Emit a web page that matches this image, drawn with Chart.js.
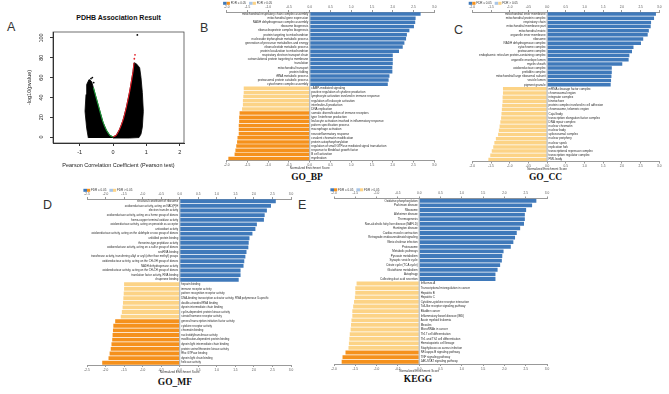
<!DOCTYPE html>
<html><head><meta charset="utf-8">
<script src="https://cdn.jsdelivr.net/npm/chart.js@4.4.0/dist/chart.umd.min.js"></script>
<style>
html,body{margin:0;padding:0;background:#fff;width:669px;height:394px;overflow:hidden;position:relative;font-family:"Liberation Sans",Arial,sans-serif}
canvas{position:absolute}
.pl{position:absolute;font-size:12.5px;color:#333;line-height:1;font-family:"Liberation Sans",Arial,sans-serif}
.gt{position:absolute;font-family:"Liberation Serif","Times New Roman",serif;font-weight:bold;font-size:9.5px;line-height:1;transform:translateX(-50%);color:#111;white-space:nowrap}
.at{position:absolute;font-weight:bold;font-size:7px;line-height:1;transform:translateX(-50%);color:#111;white-space:nowrap}
</style></head><body>
<div class="pl" style="left:7px;top:20.6px">A</div>
<div class="pl" style="left:200px;top:21.6px">B</div>
<div class="pl" style="left:454px;top:23.6px">C</div>
<div class="pl" style="left:43px;top:198.6px">D</div>
<div class="pl" style="left:298px;top:198.6px">E</div>
<div class="at" style="left:118.5px;top:14.2px">PDHB Association Result</div>
<div class="gt" style="left:307px;top:172.6px">GO_BP</div>
<div class="gt" style="left:545.5px;top:172.6px">GO_CC</div>
<div class="gt" style="left:175px;top:377.6px">GO_MF</div>
<div class="gt" style="left:418px;top:374.6px">KEGG</div>
<canvas id="cA"></canvas>
<canvas id="cB"></canvas>
<canvas id="cC"></canvas>
<canvas id="cD"></canvas>
<canvas id="cE"></canvas>
<script>
// ---------- Panel A: volcano (outline values) ----------
const massLeftR = [-0.74,-0.79,-0.84,-0.81,-0.79,-0.72,-0.64];
const massLeftP = [-1,9,26,43,53,58,56];
const greenR = [-0.59,-0.50,-0.40,-0.30,-0.20,-0.10,0.00];
const greenP = [50,39,27,15,7,2,0];
const redR = [0.00,0.10,0.20,0.30,0.40,0.50,0.60,0.63];
const redP = [0,2,8,17,30,46,66,75];
const massRightR = [0.70,0.80,0.84,0.88,0.91,0.88,0.84,0.78,0.50,0.00];
const massRightP = [74,70,60,45,26,10,3,-0.5,-1,-1];
const outBlackR = [0.73,0.70,0.74,0.77,-0.62,-0.66,-0.70,-0.58];
const outBlackP = [103,72,70,68,60,59,57,55];
const outRedR = [0.66,0.64];
const outRedP = [83,79];
const volcanoXTicks = [-1,0,1,2];
const volcanoYTicks = [0,20,40,60,80,100];

// ---------- Panel B: GO_BP ----------
const bpTerms = ["mitochondrial respiratory chain complex assembly","mitochondrial gene expression","NADH dehydrogenase complex assembly","ribosome biogenesis","ribonucleoprotein complex biogenesis","protein targeting to mitochondrion","nucleoside triphosphate metabolic process","generation of precursor metabolites and energy","ribonucleotide metabolic process","protein localization to mitochondrion","respiratory electron transport chain","cotranslational protein targeting to membrane","translation","mitochondrial transport","protein folding","tRNA metabolic process","proteasomal protein catabolic process","cytochrome complex assembly",
"cAMP-mediated signaling","positive regulation of cytokine production","lymphocyte activation involved in immune response","regulation of leukocyte activation","interleukin-6 production","DNA replication",
"somatic diversification of immune receptors","type I interferon production","leukocyte activation involved in inflammatory response","pattern specification process","macrophage activation","neuroinflammatory response","covalent chromatin modification","protein autophosphorylation","regulation of small GTPase mediated signal transduction","response to fibroblast growth factor","B cell activation","myelination"];
const bpNES = [2.67,2.55,2.54,2.51,2.40,2.34,2.32,2.28,2.24,2.15,2.00,2.00,2.00,1.99,1.99,1.92,1.90,1.88,
-1.59,-1.59,-1.60,-1.61,-1.61,-1.63,
-1.69,-1.70,-1.70,-1.71,-1.71,-1.71,-1.74,-1.75,-1.77,-1.79,-1.81,-1.96];
const bpSig = [1,1,1,1,1,1,1,1,1,1,1,1,1,1,1,1,1,1, 0,0,0,0,0,0, 1,1,1,1,1,1,1,1,1,1,1,1];

// ---------- Panel C: GO_CC ----------
const ccTerms = ["mitochondrial inner membrane","mitochondrial protein complex","respiratory chain","mitochondrial membrane part","mitochondrial matrix","organelle inner membrane","ribosome","NADH dehydrogenase complex","cytochrome complex","proteasome complex","endoplasmic reticulum protein-containing complex","organelle envelope lumen","myelin sheath","oxidoreductase complex","prefoldin complex","mitochondrial large ribosomal subunit","vesicle lumen","pigment granule",
"mRNA cleavage factor complex","chromosomal region","integrator complex","kinetochore","protein complex involved in cell adhesion","chromosome, telomeric region","Cajal body","transcription elongation factor complex","DNA repair complex","nuclear chromatin","nuclear body","spliceosomal complex","nuclear periphery","nuclear speck","replication fork","transcriptional repressor complex","transcription regulator complex","PML body"];
const ccNES = [2.91,2.86,2.78,2.77,2.72,2.69,2.57,2.51,2.31,2.27,2.20,2.18,2.01,1.73,1.73,1.72,1.71,1.70,
-1.18,-1.18,-1.19,-1.19,-1.20,-1.21,-1.22,-1.23,-1.25,-1.27,-1.29,-1.31,-1.37,-1.41,-1.44,-1.48,-1.52,-1.57];
const ccSig = [1,1,1,1,1,1,1,1,1,1,1,1,1,1,1,1,1,1, 0,0,0,0,0,0,0,0,0,0,0,0,0,0,0,0,0,0];

// ---------- Panel D: GO_MF ----------
const mfTerms = ["structural constituent of ribosome","oxidoreductase activity, acting on NAD(P)H","electron transfer activity","oxidoreductase activity, acting on a heme group of donors","heme-copper terminal oxidase activity","oxidoreductase activity, acting on peroxide as acceptor","antioxidant activity","oxidoreductase activity, acting on the aldehyde or oxo group of donors","unfolded protein binding","threonine-type peptidase activity","oxidoreductase activity, acting on a sulfur group of donors","snoRNA binding","transferase activity, transferring alkyl or aryl (other than methyl) groups","oxidoreductase activity, acting on the CH-OH group of donors","NADH dehydrogenase activity","oxidoreductase activity, acting on the CH-CH group of donors","translation factor activity, RNA binding","chaperone binding",
"heparin binding","immune receptor activity","pattern recognition receptor activity","DNA-binding transcription activator activity, RNA polymerase II-specific","double-stranded RNA binding","dynein intermediate chain binding","cyclin-dependent protein kinase activity","steroid hormone receptor activity",
"general transcription initiation factor activity","cytokine receptor activity","chromatin binding","nucleotidyltransferase activity","modification-dependent protein binding","dynein light intermediate chain binding","protein serine/threonine kinase activity","Rho GTPase binding","dynein light chain binding","helicase activity"];
const mfNES = [2.59,2.46,2.35,2.29,2.27,2.08,2.04,1.96,1.88,1.86,1.85,1.80,1.77,1.74,1.72,1.64,1.64,1.59,
-1.50,-1.50,-1.51,-1.52,-1.53,-1.54,-1.56,-1.59,
-1.74,-1.79,-1.80,-1.81,-1.82,-1.84,-1.86,-1.89,-1.92,-2.09];
const mfSig = [1,1,1,1,1,1,1,1,1,1,1,1,1,1,1,1,1,1, 0,0,0,0,0,0,0,0, 1,1,1,1,1,1,1,1,1,1];

// ---------- Panel E: KEGG ----------
const keggTerms = ["Oxidative phosphorylation","Parkinson disease","Ribosome","Alzheimer disease","Thermogenesis","Non-alcoholic fatty liver disease (NAFLD)","Huntington disease","Cardiac muscle contraction","Retrograde endocannabinoid signaling","Vibrio cholerae infection","Proteasome","Metabolic pathways","Pyruvate metabolism","Synaptic vesicle cycle","Citrate cycle (TCA cycle)","Glutathione metabolism","Autophagy","Collecting duct acid secretion",
"Influenza A","Transcriptional misregulation in cancer","Hepatitis B","Hepatitis C","Cytokine-cytokine receptor interaction","Toll-like receptor signaling pathway","Bladder cancer","Inflammatory bowel disease (IBD)","Acute myeloid leukemia","Measles","MicroRNAs in cancer","Th17 cell differentiation","Th1 and Th2 cell differentiation","Hematopoietic cell lineage","Staphylococcus aureus infection","NF-kappa B signaling pathway","TNF signaling pathway","JAK-STAT signaling pathway"];
const keggNES = [2.75,2.65,2.51,2.48,2.48,2.46,2.37,2.29,2.25,2.21,2.15,1.98,1.95,1.94,1.90,1.84,1.79,1.79,
-1.47,-1.50,-1.50,-1.51,-1.53,-1.55,-1.57,-1.57,-1.59,-1.60,-1.61,-1.63,-1.64,-1.65,-1.66,
-1.73,-1.80,-1.82];
const keggSig = [1,1,1,1,1,1,1,1,1,1,1,1,1,1,1,1,1,1, 0,0,0,0,0,0,0,0,0,0,0,0,0,0,0, 1,1,1];

const legendLabels = ["FDR \u2264 0.05","FDR > 0.05"];
const axisTitleNES = "Normalized Enrichment Score";

// ---------- styles ----------
const BLUE='#3f79ba', LBLUE='#a9c5e6', ORANGE='#f5911c', LORANGE='#fcd386';
const FONT='"Liberation Sans", Arial, sans-serif';

function pts(xs, ys){ return xs.map((x,i)=>({x:x, y:ys[i]})); }

// Volcano
(function(){
  const cv=document.getElementById('cA');
  cv.style.left='0px'; cv.style.top='0px'; cv.width=200; cv.height=180;
  const massPts = pts(massLeftR.concat(greenR, redR, massRightR), massLeftP.concat(greenP, redP, massRightP));
  const boxPlugin={id:'box',afterDraw(ch){const a=ch.chartArea,c=ch.ctx;c.save();c.strokeStyle='#333';c.lineWidth=0.7;c.strokeRect(a.left,a.top,a.right-a.left,a.bottom-a.top);c.restore();}};
  new Chart(cv,{type:'scatter',
    data:{datasets:[
      {data:massPts,showLine:true,fill:'shape',backgroundColor:'#000',borderColor:'#000',borderWidth:0.8,pointRadius:0,tension:0,order:10},
      {data:pts(greenR,greenP),showLine:true,borderColor:'#1f9d3a',borderWidth:1.1,pointRadius:0,fill:false,tension:0.3,order:1},
      {data:pts(redR,redP),showLine:true,borderColor:'#e3232b',borderWidth:1.1,pointRadius:0,fill:false,tension:0.3,order:1},
      {data:pts(outBlackR,outBlackP),pointRadius:0.9,backgroundColor:'#000',borderWidth:0,order:0},
      {data:pts(outRedR,outRedP),pointRadius:0.9,backgroundColor:'#e3232b',borderWidth:0,order:0}
    ]},
    options:{responsive:false,animation:false,devicePixelRatio:1,
      layout:{padding:{left:26,right:16,top:32,bottom:11}},
      plugins:{legend:{display:false},tooltip:{enabled:false}},
      scales:{
        x:{type:'linear',min:-1.8,max:2.13,
          afterBuildTicks:s=>{s.ticks=volcanoXTicks.map(v=>({value:v}));},
          ticks:{font:{size:5.5,family:FONT},color:'#222',padding:3,maxRotation:0,callback:v=>String(v)},
          grid:{drawOnChartArea:false,tickLength:3,color:'#333'},border:{color:'#333'},
          title:{display:true,text:'Pearson Correlation Coefficient (Pearson test)',font:{size:5.5,family:FONT},color:'#222',padding:0},
          afterFit:s=>{s.height=26;}},
        y:{type:'linear',min:-6,max:106,
          afterBuildTicks:s=>{s.ticks=volcanoYTicks.map(v=>({value:v}));},
          ticks:{font:{size:5.5,family:FONT},color:'#222',padding:3.5,minRotation:90,maxRotation:90,crossAlign:'center'},
          grid:{drawOnChartArea:false,tickLength:3,color:'#333'},border:{color:'#333'},
          title:{display:true,text:'-log10(pvalue)',font:{size:5.5,family:FONT},color:'#222',padding:0},
          afterFit:s=>{s.width=27;}}
      }},
    plugins:[boxPlugin]});
})();

// Bar panels
function barPanel(p){
  const cv=document.getElementById(p.id);
  const [bx,by,bw,bh]=p.box, [al,ar,at,ab]=p.area;
  cv.style.left=bx+'px'; cv.style.top=by+'px'; cv.width=bw; cv.height=bh;
  const hTop=9,hBot=6;
  const pad={left:al-bx,right:bx+bw-ar,top:at-by-hTop,bottom:by+bh-ab-hBot};
  const colors=p.nes.map((v,i)=>v>=0?(p.sig[i]?BLUE:LBLUE):(p.sig[i]?ORANGE:LORANGE));
  const axisCommon={type:'linear',min:p.min,max:p.max,
    ticks:{stepSize:0.5,autoSkip:false,maxRotation:0,font:{size:3.2,family:FONT},color:'#555',padding:1,callback:v=>Number(v).toFixed(1)},
    grid:{display:true,drawOnChartArea:false,tickLength:2,color:'#999'},border:{color:'#999'}};
  const labelPlugin={id:'lbl'+p.id,afterDatasetsDraw(ch){
    const c=ch.ctx,xs=ch.scales.x,ys=ch.scales.y,a=ch.chartArea,x0=xs.getPixelForValue(0);
    c.save();
    c.strokeStyle='#8d99a8';c.lineWidth=0.8;c.beginPath();c.moveTo(x0,a.top);c.lineTo(x0,a.bottom);c.stroke();
    c.fillStyle='#2a2a2a';c.textBaseline='middle';c.font=p.fs+'px '+FONT;
    p.terms.forEach((t,i)=>{const y=ys.getPixelForValue(i);
      if(p.nes[i]>=0){c.textAlign='right';c.fillText(t,x0-1.5,y);}else{c.textAlign='left';c.fillText(t,x0+1.5,y);}});
    c.font='3px '+FONT;c.textAlign='center';c.fillStyle='#333';
    c.fillText(axisTitleNES,x0,a.bottom+hBot+1.5);
    const lx=a.left-3.6, ly=a.top-8.7;
    c.fillStyle=BLUE;c.fillRect(lx,ly-1.5,3.6,3);c.fillStyle=ORANGE;c.fillRect(lx+3.6,ly-1.5,3.2,3);
    c.fillStyle=LBLUE;c.fillRect(lx+26,ly-1.5,3.6,3);c.fillStyle=LORANGE;c.fillRect(lx+29.6,ly-1.5,3.2,3);
    c.fillStyle='#333';c.textAlign='left';c.font='3px '+FONT;
    c.fillText(legendLabels[0],lx+7.6,ly);c.fillText(legendLabels[1],lx+33.6,ly);
    c.restore();}};
  new Chart(cv,{type:'bar',
    data:{labels:p.terms,datasets:[{data:p.nes,backgroundColor:colors,borderWidth:0,barPercentage:1,categoryPercentage:0.84}]},
    options:{indexAxis:'y',responsive:false,animation:false,devicePixelRatio:1,
      layout:{padding:pad},
      plugins:{legend:{display:false},tooltip:{enabled:false}},
      scales:{
        x:Object.assign({},axisCommon,{position:'top',afterFit:s=>{s.height=hTop;}}),
        x2:Object.assign({},axisCommon,{position:'bottom',axis:'x',afterFit:s=>{s.height=hBot;}}),
        y:{display:false}
      }},
    plugins:[labelPlugin]});
}
barPanel({id:'cB',box:[214,0,232,172],area:[226.7,434.3,12,160.5],terms:bpTerms,nes:bpNES,sig:bpSig,min:-2,max:3,fs:3.0});
barPanel({id:'cC',box:[458,0,211,172],area:[472.3,659.3,12,161.5],terms:ccTerms,nes:ccNES,sig:ccSig,min:-2,max:3,fs:3.0});
barPanel({id:'cD',box:[75,186,226,190],area:[87,291,199,365],terms:mfTerms,nes:mfNES,sig:mfSig,min:-2.5,max:3,fs:2.8});
barPanel({id:'cE',box:[322,186,237,188],area:[334,547,198.5,364],terms:keggTerms,nes:keggNES,sig:keggSig,min:-2,max:3,fs:2.9});
</script>
</body></html>
